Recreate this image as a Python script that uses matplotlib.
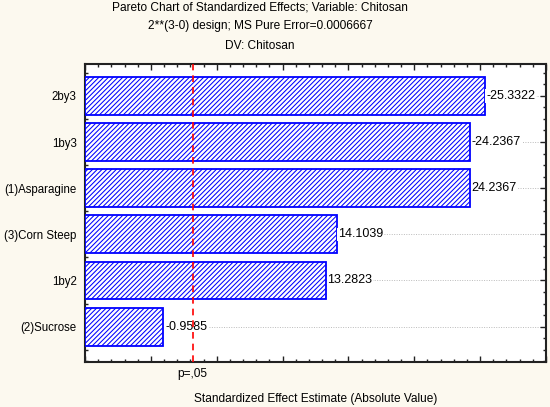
import matplotlib
matplotlib.use("Agg")
import matplotlib.pyplot as plt
from matplotlib.ticker import MultipleLocator, NullFormatter

# Data (top to bottom)
categories = ["2by3", "1by3", "(1)Asparagine", "(3)Corn Steep", "1by2", "(2)Sucrose"]
effects = [-25.3322, -24.2367, 24.2367, 14.1039, 13.2823, -0.9585]
value_labels = ["-25.3322", "-24.2367", "24.2367", "14.1039", "13.2823", "-0.9585"]
p_crit = 3.182
x_min, x_max = -5, 30

plt.rcParams['font.family'] = ['Liberation Sans', 'DejaVu Sans']
plt.rcParams['hatch.color'] = '#0000FF'
plt.rcParams['hatch.linewidth'] = 0.75

bg = '#FCF9EF'
fig = plt.figure(figsize=(5.5, 4.07), dpi=100, facecolor=bg)
ax = fig.add_axes([85/550, 1-361.7/407, (546-85)/550, (361.7-64)/407])
ax.set_facecolor('white')

n = len(categories)
ypos = [n - 1 - i for i in range(n)]
absvals = [abs(v) for v in effects]

ax.barh(ypos, [a - x_min for a in absvals], left=x_min, height=0.82,
        facecolor='white', edgecolor='#0000FF', hatch='///////', linewidth=1.3, zorder=3)

for y, a, lab in zip(ypos, absvals, value_labels):
    ax.axhline(y, color='#BBBBBB', linestyle=(0, (1, 1.5)), linewidth=0.7, zorder=1)
    ax.text(a + 0.12, y, lab, va='center', ha='left', fontsize=9,
            bbox=dict(facecolor='white', edgecolor='none', pad=0.5), zorder=4)

ax.axvline(p_crit, color='#FF0000', linestyle=(0, (4, 3)), linewidth=1.2, zorder=5)

ax.set_xlim(x_min, x_max)
ax.set_ylim(-0.76, n - 1 + 0.69)
ax.set_yticks(ypos)
ax.set_yticklabels(categories, fontsize=8.3)
ax.yaxis.set_minor_locator(MultipleLocator(0.25))
ax.xaxis.set_major_locator(MultipleLocator(5))
ax.xaxis.set_minor_locator(MultipleLocator(1))
ax.xaxis.set_major_formatter(NullFormatter())
ax.tick_params(which='both', direction='in', top=True, right=True, color='#222222')
ax.tick_params(which='major', length=4, width=1)
ax.tick_params(which='minor', length=2.5, width=1)
ax.tick_params(axis='y', which='major', pad=6)
for s in ax.spines.values():
    s.set_linewidth(1.5)
    s.set_color('#222222')

fig.text(260/550, 1-8/407, "Pareto Chart of Standardized Effects; Variable: Chitosan",
         ha='center', va='center', fontsize=8.6)
fig.text(260/550, 1-26/407, "2**(3-0) design; MS Pure Error=0.0006667",
         ha='center', va='center', fontsize=8.6)
fig.text(260/550, 1-46/407, "DV: Chitosan", ha='center', va='center', fontsize=8.6)

ax.text(p_crit, -0.022, "p=,05", transform=ax.get_xaxis_transform(),
        ha='center', va='top', fontsize=8.6)
fig.text(316/550, 1-399/407, "Standardized Effect Estimate (Absolute Value)",
         ha='center', va='center', fontsize=8.6)

fig.savefig("out.png", dpi=100, facecolor=bg)
